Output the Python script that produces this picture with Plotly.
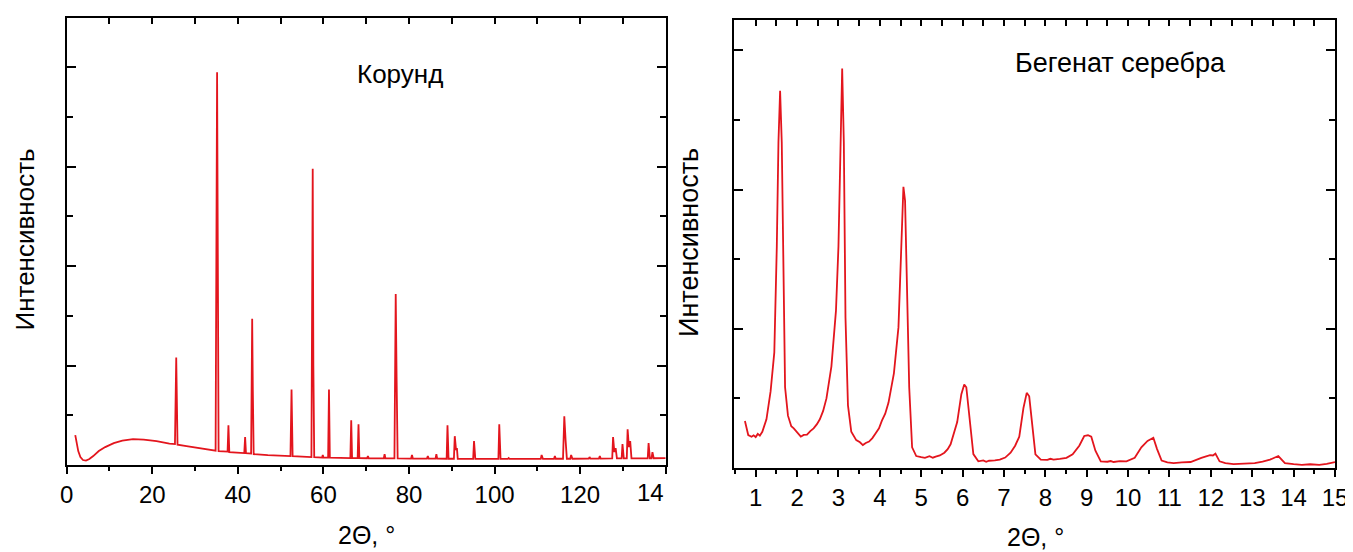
import plotly.graph_objects as go

# Corundum pattern (2theta, deg / intensity, arb. units)
corundum_2theta = [
    2.0, 2.3, 2.7, 3.2, 3.8, 4.5, 5.3, 6.2, 7.5, 9.0, 11.0, 13.0, 15.5, 18.0, 21.0, 24.0,
    25.3, 25.6, 25.9, 28.0, 31.0, 34.8, 35.15, 35.3, 35.5, 37.6, 37.8, 38.0,
    41.5, 41.7, 41.9, 43.1, 43.35, 43.5, 43.7, 47.0, 52.3, 52.55, 52.8,
    57.2, 57.5, 57.65, 57.85, 59.7, 59.85, 60.0, 61.1, 61.3, 61.5,
    66.3, 66.5, 66.7, 68.0, 68.2, 68.4, 70.2, 70.4, 70.6, 74.1, 74.3, 74.5,
    76.6, 76.9, 77.1, 77.35, 80.5, 80.7, 80.9, 84.2, 84.4, 84.6, 86.2, 86.4, 86.6,
    88.8, 89.0, 89.25, 90.5, 90.7, 91.0, 91.2, 91.4, 95.0, 95.2, 95.5,
    100.9, 101.1, 101.4, 103.1, 103.3, 103.5, 110.8, 111.0, 111.3, 113.9, 114.1, 114.3,
    116.0, 116.3, 116.6, 116.9, 117.7, 117.9, 118.2, 122.0, 122.2, 122.4, 124.4, 124.6, 124.8,
    127.5, 127.7, 128.0, 128.3, 128.6, 129.7, 129.9, 130.2, 130.9, 131.1, 131.4, 131.7, 132.0,
    135.8, 136.0, 136.3, 136.7, 136.9, 137.2, 140.0,
]
corundum_int = [
    0.30, 0.22, 0.14, 0.08, 0.05, 0.045, 0.06, 0.09, 0.14, 0.18, 0.22, 0.245, 0.26, 0.255, 0.24, 0.215,
    0.21, 1.08, 0.205, 0.19, 0.17, 0.145, 3.95, 1.0, 0.14, 0.135, 0.40, 0.13,
    0.12, 0.28, 0.12, 0.115, 1.47, 0.76, 0.11, 0.10, 0.09, 0.76, 0.09,
    0.08, 2.98, 1.0, 0.08, 0.075, 0.10, 0.075, 0.075, 0.76, 0.075,
    0.07, 0.45, 0.07, 0.07, 0.41, 0.07, 0.068, 0.09, 0.068, 0.066, 0.11, 0.066,
    0.066, 1.72, 0.89, 0.066, 0.065, 0.10, 0.065, 0.064, 0.09, 0.064, 0.064, 0.11, 0.064,
    0.063, 0.40, 0.063, 0.063, 0.29, 0.15, 0.17, 0.063, 0.062, 0.24, 0.062,
    0.062, 0.41, 0.062, 0.062, 0.07, 0.062, 0.062, 0.10, 0.062, 0.063, 0.09, 0.063,
    0.063, 0.49, 0.25, 0.063, 0.063, 0.10, 0.063, 0.064, 0.08, 0.064, 0.065, 0.09, 0.065,
    0.066, 0.28, 0.13, 0.17, 0.066, 0.066, 0.21, 0.066, 0.067, 0.36, 0.18, 0.24, 0.067,
    0.068, 0.22, 0.068, 0.068, 0.13, 0.068, 0.07,
]

# Silver behenate pattern
behenate_2theta = [
    0.74, 0.82, 0.9, 0.95, 1.0, 1.05, 1.1, 1.16, 1.26, 1.36, 1.45, 1.51, 1.55, 1.59,
    1.63, 1.67, 1.71, 1.78, 1.86, 1.92, 1.98, 2.04, 2.09, 2.16, 2.24, 2.32, 2.40, 2.48,
    2.55, 2.63, 2.71, 2.83, 2.94, 3.00, 3.05, 3.09, 3.13, 3.17, 3.23, 3.31, 3.43, 3.52,
    3.59, 3.66, 3.74, 3.82, 3.90, 3.98, 4.05, 4.13, 4.21, 4.34, 4.45, 4.52, 4.57, 4.61,
    4.66, 4.71, 4.78, 4.88, 5.0, 5.09, 5.2, 5.28, 5.35, 5.45, 5.56, 5.64, 5.71, 5.87,
    5.97, 6.04, 6.09, 6.18, 6.26, 6.38, 6.5, 6.57, 6.64, 6.78, 6.90, 7.03, 7.16, 7.27,
    7.37, 7.47, 7.55, 7.61, 7.68, 7.76, 7.89, 8.05, 8.12, 8.20, 8.35, 8.51, 8.66, 8.82,
    8.94, 9.03, 9.11, 9.21, 9.34, 9.5, 9.58, 9.65, 9.8, 9.96, 10.16, 10.32, 10.47, 10.61,
    10.70, 10.81, 10.95, 11.10, 11.3, 11.51, 11.77, 11.98, 12.05, 12.11, 12.21, 12.35,
    12.55, 12.8, 13.06, 13.25, 13.43, 13.63, 13.79, 14.0, 14.20, 14.4, 14.62, 14.8, 15.0,
]
behenate_int = [
    0.338, 0.237, 0.225, 0.235, 0.222, 0.245, 0.232, 0.26, 0.35, 0.55, 0.83, 1.59, 2.34, 2.71,
    2.34, 1.34, 0.58, 0.376, 0.30, 0.285, 0.262, 0.24, 0.225, 0.238, 0.24, 0.265, 0.285, 0.315,
    0.35, 0.41, 0.50, 0.73, 1.13, 1.59, 2.34, 2.87, 2.34, 1.08, 0.45, 0.26, 0.20, 0.185,
    0.165, 0.18, 0.19, 0.215, 0.25, 0.285, 0.34, 0.39, 0.47, 0.68, 1.01, 1.54, 2.02, 1.92,
    1.34, 0.58, 0.149, 0.086, 0.078, 0.073, 0.085, 0.074, 0.082, 0.09, 0.11, 0.135, 0.17, 0.33,
    0.53, 0.60, 0.58, 0.33, 0.10, 0.048, 0.055, 0.045, 0.052, 0.055, 0.06, 0.075, 0.11, 0.16,
    0.225, 0.43, 0.54, 0.515, 0.326, 0.098, 0.06, 0.058, 0.066, 0.06, 0.065, 0.073, 0.098, 0.16,
    0.23, 0.235, 0.225, 0.124, 0.048, 0.045, 0.05, 0.043, 0.05, 0.048, 0.073, 0.149, 0.194, 0.217,
    0.136, 0.053, 0.04, 0.035, 0.04, 0.043, 0.073, 0.093, 0.09, 0.103, 0.048, 0.035,
    0.028, 0.033, 0.035, 0.045, 0.06, 0.086, 0.035, 0.028, 0.023, 0.027, 0.023, 0.03, 0.043,
]

left_ticks = [0, 20, 40, 60, 80, 100, 120, 140]
left_ticktext = ["0", "20", "40", "60", "80", "100", "120", ""]
right_ticks = list(range(1, 16))

RED = "#e3151d"
FONT = "Liberation Sans, Arial, sans-serif"
# the page body keeps its default 8px margin, so the figure sits 8px in
OFF = 8
W, H = 1353 - OFF, 552 - OFF


def px_x(px):
    return (px - OFF) / W


def px_y(py):
    return 1 - (py - OFF) / H


fig = go.Figure()
fig.add_trace(go.Scatter(x=corundum_2theta, y=corundum_int, mode="lines",
                         line=dict(color=RED, width=1.8), xaxis="x", yaxis="y",
                         showlegend=False))
fig.add_trace(go.Scatter(x=behenate_2theta, y=behenate_int, mode="lines",
                         line=dict(color=RED, width=1.8), xaxis="x2", yaxis="y2",
                         showlegend=False))
# invisible copies so the top (inside-tick) axes get a subplot and are drawn
fig.add_trace(go.Scatter(x=corundum_2theta, y=corundum_int, mode="lines", opacity=0,
                         hoverinfo="skip", xaxis="x3", yaxis="y", showlegend=False))
fig.add_trace(go.Scatter(x=behenate_2theta, y=behenate_int, mode="lines", opacity=0,
                         hoverinfo="skip", xaxis="x4", yaxis="y2", showlegend=False))

axis_common = dict(showgrid=False, zeroline=False, showline=True, linecolor="black",
                   linewidth=2, tickcolor="black", tickwidth=1.5, automargin=False)
minor_common = dict(tickcolor="black", tickwidth=1.5)

left_dom = [px_x(66.7), px_x(665.7)]
right_dom = [px_x(734.3), px_x(1335)]

fig.update_layout(
    width=W, height=H,
    margin=dict(l=0, r=0, t=0, b=0, autoexpand=False),
    paper_bgcolor="white", plot_bgcolor="white",
    font=dict(family=FONT, size=24, color="black"),
    xaxis=dict(**axis_common, domain=left_dom, anchor="y", range=[0, 140],
               tickmode="array", tickvals=left_ticks, ticktext=left_ticktext,
               ticks="outside", ticklen=7,
               minor=dict(**minor_common, tickvals=list(range(10, 140, 20)),
                          ticks="outside", ticklen=4),
               tickfont=dict(size=24)),
    xaxis3=dict(**axis_common, overlaying="x", anchor="y", side="top", range=[0, 140],
                tickmode="array", tickvals=list(range(10, 140, 10)), ticks="inside",
                ticklen=6, showticklabels=False),
    yaxis=dict(**axis_common, domain=[px_y(465), px_y(17.6)], anchor="x", range=[0, 4.5],
               tickmode="array", tickvals=[0, 1, 2, 3, 4], ticks="inside", ticklen=9,
               mirror="ticks", showticklabels=False,
               minor=dict(**minor_common, tickvals=[0.5, 1.5, 2.5, 3.5], ticks="inside",
                          ticklen=6)),
    xaxis2=dict(**axis_common, domain=right_dom, anchor="y2", range=[0.483, 15],
                tickmode="array", tickvals=right_ticks, ticks="outside", ticklen=7,
                minor=dict(**minor_common, tickvals=[i + 0.5 for i in range(0, 15)],
                           ticks="outside", ticklen=4),
                tickfont=dict(size=24)),
    xaxis4=dict(**axis_common, overlaying="x2", anchor="y2", side="top",
                range=[0.483, 15], tickmode="array",
                tickvals=[i * 0.5 for i in range(2, 30)], ticks="inside",
                ticklen=6, showticklabels=False),
    yaxis2=dict(**axis_common, domain=[px_y(468), px_y(20)], anchor="x2", range=[0, 3.218],
                tickmode="array", tickvals=[0, 1, 2, 3], ticks="inside", ticklen=9,
                mirror="ticks", showticklabels=False,
                minor=dict(**minor_common, tickvals=[0.5, 1.5, 2.5], ticks="inside",
                           ticklen=6)),
)

labels = [
    ("Корунд", 400, 74, 0, 26),
    ("Бегенат серебра", 1120, 63, 0, 27),
    ("2Θ, °", 366, 535, 0, 25),
    ("2Θ, °", 1035, 537, 0, 25),
    ("Интенсивность", 24.5, 240, -90, 26),
    ("Интенсивность", 689, 243, -90, 27),
]
for text, lx, ly, angle, size in labels:
    fig.add_annotation(text=text, x=px_x(lx), y=px_y(ly), xref="paper", yref="paper",
                       xanchor="center", yanchor="middle", textangle=angle,
                       showarrow=False, font=dict(size=size))

# the "140" label is cut to "14" by the right panel in the reference
fig.add_annotation(text="14", x=140, xref="x", y=px_y(492), yref="paper",
                   xanchor="right", yanchor="middle", showarrow=False,
                   font=dict(size=24))

fig.write_html("out.html")
